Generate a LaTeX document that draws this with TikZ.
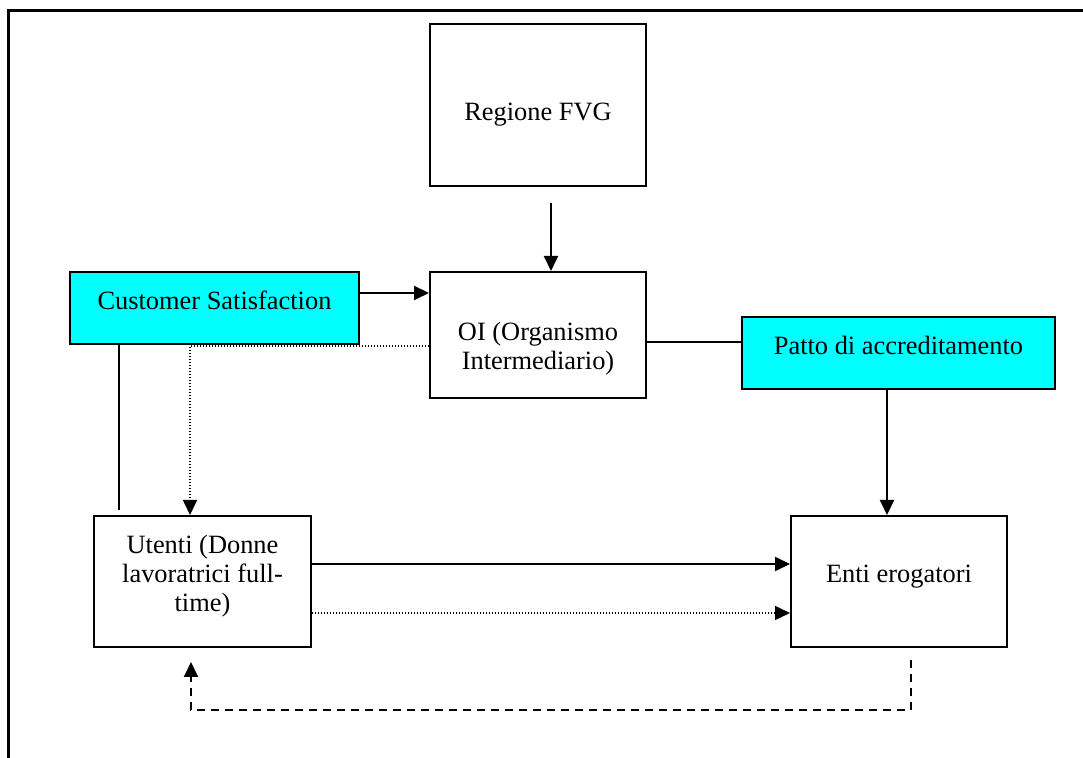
\documentclass[tikz,border=0pt]{standalone}
\usepackage{fontspec}
\setmainfont{Liberation Serif}
\usetikzlibrary{positioning,arrows.meta}
\definecolor{aqua}{RGB}{0,255,255}
\tikzset{
  box/.style={draw, line width=1pt, align=center, inner sep=0pt},
  cyanbox/.style={box, fill=aqua},
  tip/.style={-{Triangle[length=7.5pt,width=7pt]}},
  dots/.style={line width=0.8pt, dash pattern=on 0.6pt off 0.9pt},
  dashes/.style={dash pattern=on 4pt off 3pt},
}

\begin{document}
\begin{tikzpicture}[x=0.5pt,y=-0.5pt,line width=1pt,
  every node/.style={font=\fontsize{13.2}{14.5}\selectfont}]
	%% page and outer frame (open at right and bottom)
	\useasboundingbox (0,0) rectangle (1083,758);
	\draw[line width=1.5pt] (8,758) -- (8,11) -- (1083,11);

	%% boxes
	\node[box, minimum width=108pt, minimum height=81pt, text height=18pt] (regione) at (538,105) {Regione FVG};
	\node[box, minimum width=108pt, minimum height=63pt, text height=37.5pt] (oi) at (538,335) {OI (Organismo\\Intermediario)};
	\node[cyanbox, minimum width=144.5pt, minimum height=36pt, text depth=8pt] (cust) at (214.5,308) {Customer Satisfaction};
	\node[cyanbox, minimum width=156.5pt, minimum height=36pt, text depth=8pt] (patto) at (898.5,353) {Patto di accreditamento};
	\node[box, minimum width=108.5pt, minimum height=65.5pt, text depth=8pt] (utenti) at (202.5,581.5) {Utenti (Donne\\lavoratrici full-\\time)};
	\node[box, minimum width=108pt, minimum height=65.5pt, text depth=8pt] (enti) at (899,581.5) {Enti erogatori};

	%% free ends of the connectors
	\coordinate (regout) at ([xshift=6.5pt,yshift=-8pt]regione.south);
	\coordinate (dotknee) at (190,346);
	\coordinate (custfoot) at (119,510);
	\coordinate (dashstart) at (911,660);
	\coordinate (dashend) at (191,662);
	\coordinate (dashlow) at (0,710);

	%% connectors
	\begin{scope}[tip]
	  \draw (regout) -- (regout |- oi.north);
	  \draw ([yshift=7.5pt]cust.east) -- ([yshift=7.5pt]cust.east -| oi.west);
	  \draw[dots] (dotknee -| oi.west) -- (dotknee) -- (dotknee |- utenti.north);
	  \draw ([xshift=-5.75pt]patto.south) -- ([xshift=-5.75pt]patto.south |- enti.north);
	  \draw ([yshift=8.75pt]utenti.east) -- ([yshift=8.75pt]utenti.east -| enti.west);
	  \draw[dots] ([yshift=-15.75pt]utenti.east) -- ([yshift=-15.75pt]utenti.east -| enti.west);
	  \draw[dashes] (dashstart) -- (dashstart |- dashlow) -- (dashend |- dashlow) -- (dashend);
	\end{scope}
	\draw (custfoot |- cust.south) -- (custfoot);
	\draw ([yshift=-3.5pt]oi.east) -- ([yshift=-3.5pt]oi.east -| patto.west);
\end{tikzpicture}
\end{document}
